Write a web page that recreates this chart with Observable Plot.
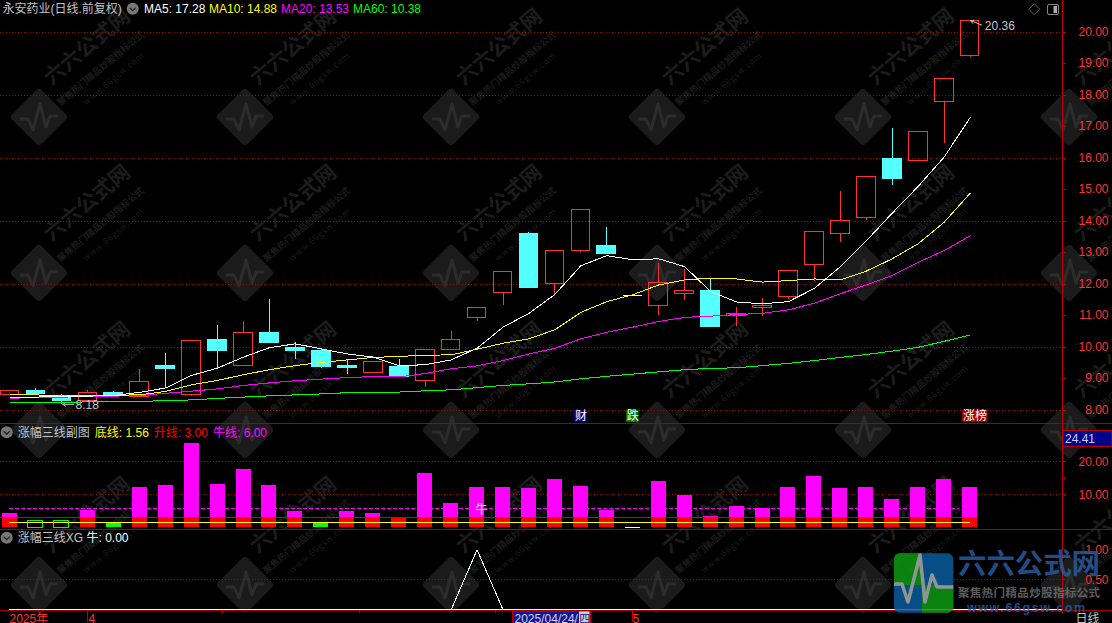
<!DOCTYPE html>
<html>
<head>
<meta charset="utf-8">
<script src="https://cdn.jsdelivr.net/npm/d3@7"></script>
<script src="https://cdn.jsdelivr.net/npm/@observablehq/plot@0.6"></script>
<style>
html,body{margin:0;padding:0;background:#000;overflow:hidden}
#stage{position:relative;width:1112px;height:623px;background:#000;overflow:hidden}
#stage>svg{position:absolute;left:0}
</style>
</head>
<body>
<div id="stage"></div>
<script>
// ---------- data ----------
const opens  = [8.47,8.59,8.44,8.30,8.55,8.41,9.41,8.47,10.21,9.39,10.43,9.98,9.86,9.41,9.17,9.35,8.91,9.91,10.91,11.71,13.60,11.99,13.04,13.22,11.63,11.30,11.68,11.79,10.98,11.23,11.58,12.61,13.59,14.09,15.98,15.90,17.77,19.24];
const closes = [8.61,8.52,8.30,8.55,8.46,8.90,9.29,10.20,9.87,10.45,10.14,9.87,9.38,9.32,9.51,9.04,9.91,10.23,11.24,12.39,11.87,13.05,14.35,12.95,11.63,12.04,11.78,10.62,11.05,11.29,12.42,13.66,14.00,15.40,15.32,16.83,18.51,20.36];
const highs  = [8.61,8.68,8.49,8.62,8.58,9.29,9.78,10.20,10.68,10.81,11.51,10.13,9.93,9.57,9.51,9.60,9.91,10.49,11.24,12.39,13.63,13.05,14.35,13.79,11.63,12.64,12.47,12.14,11.25,11.55,12.42,13.66,14.94,15.40,16.94,16.83,18.51,20.36];
const lows   = [8.47,8.48,8.18,8.25,8.45,8.40,8.70,8.44,9.31,9.39,10.12,9.61,9.32,9.13,9.17,9.04,8.72,9.91,10.82,11.33,11.87,11.61,13.01,12.95,11.63,11.00,11.48,10.62,10.65,10.98,11.50,12.09,13.33,14.01,15.13,15.90,16.47,19.20];
const ma5  = [8.40,8.41,8.43,8.44,8.46,8.56,8.70,9.10,9.33,9.68,9.98,10.10,9.94,9.78,9.68,9.40,9.44,9.59,9.96,10.63,11.07,11.67,12.58,12.90,12.77,12.80,12.55,11.76,11.43,11.37,11.44,11.86,12.55,13.37,14.25,15.10,16.03,17.28];
const ma10 = [8.48,8.48,8.44,8.46,8.47,8.48,8.59,8.80,8.94,9.12,9.28,9.41,9.51,9.59,9.67,9.70,9.74,9.75,9.93,10.12,10.26,10.55,11.10,11.44,11.66,11.97,12.13,12.19,12.16,12.06,12.11,12.16,12.13,12.41,12.80,13.28,13.96,14.88];
const ma20 = [8.37,8.40,8.41,8.42,8.44,8.46,8.53,8.60,8.67,8.78,8.86,8.93,8.98,9.03,9.06,9.05,9.16,9.31,9.40,9.57,9.78,9.96,10.26,10.47,10.63,10.81,10.94,10.98,11.03,11.07,11.18,11.39,11.69,11.97,12.27,12.69,13.06,13.53];
const ma60 = [8.23,8.23,8.23,8.26,8.26,8.27,8.30,8.32,8.37,8.41,8.45,8.48,8.51,8.55,8.56,8.57,8.61,8.64,8.71,8.78,8.83,8.89,8.99,9.07,9.14,9.21,9.28,9.32,9.34,9.41,9.48,9.57,9.67,9.76,9.87,9.99,10.18,10.38];
const amplitude = [4.4,2.2,2.2,5.3,1.45,12.3,12.9,25.6,13.2,17.7,12.9,5.0,1.45,5.0,4.4,3.1,16.5,7.4,12.3,12.3,11.9,14.7,12.6,5.3,0,14.1,9.8,3.5,6.5,6.0,12.3,15.6,11.9,12.3,8.6,12.3,14.7,12.3];
const amplitudeKind = ["up","hollow","hollow","up","down","up","up","up","up","up","up","up","down","up","up","up","up","up","up","up","up","up","up","up","flat","up","up","up","up","up","up","up","up","up","up","up","up","up"];
const xgSignal = [0,0,0,0,0,0,0,0,0,0,0,0,0,0,0,0,0,0,1,0,0,0,0,0,0,0,0,0,0,0,0,0,0,0,0,0,0,0];
const bottomLine = 1.56, riseLine = 3, bullLine = 6;
const events = [{at:22,label:"财",kind:"news"},{at:24,label:"跌",kind:"fall"},{at:37.19,label:"涨榜",kind:"rise"}];
const priceTicks = [8,9,10,11,12,13,14,15,16,17,18,19,20];
const priceGrid = [8,10,12,14,16,18,20];
const subGrid = [10,20], subMinorTicks = [15];
const xgTicks = [0.5,1];
const monthTicks = [3,24], minorTicks = [8.2,13.45,18.7];
const nameLabel = "永安药业(日线.前复权)";
const maLabels = ["MA5: 17.28","MA10: 14.88","MA20: 13.53","MA60: 10.38"];
const subLabelTexts = ["涨幅三线副图","底线: 1.56","升线: 3.00","牛线: 6.00"];
const xgLabelTexts = ["涨幅三线XG","牛: 0.00"];
const brand = {name:"六六公式网",slogan:"聚焦热门精品炒股指标公式",url:"www.66gsw.com"};

// ---------- shared styling ----------
const idx = d3.range(opens.length);
const RED="#ff3232", CYAN="#54ffff", GRIDRED="#a80000", AXIS="#c00000", GREY="#c4c4c4";
const FONT='"Liberation Sans","Noto Sans CJK SC",sans-serif';
const xScale = {domain:[-0.366,40.56],range:[0,1062],axis:null};
const hw = 0.36, bw = 0.289;
const lab = (t,x,y,fill,extra={}) => Plot.text([t],{text:d=>d,frameAnchor:"top-left",dx:x,dy:y,fill,fontSize:12,fontFamily:FONT,textAnchor:"start",lineAnchor:"middle",...extra});
const base = {width:1112,marginLeft:0,marginRight:50,marginTop:0,marginBottom:0,x:xScale,
  style:{background:"transparent",fontFamily:FONT,fontSize:"12px"}};
const grid = vals => Plot.ruleY(vals,{stroke:GRIDRED,strokeWidth:1,strokeDasharray:"1,2",shapeRendering:"crispEdges"});
const rightAxis = (vals,extra={}) => Plot.axisY(vals,{anchor:"right",tickSize:3,tickPadding:43,textAnchor:"end",stroke:AXIS,fill:RED,tickFormat:d3.format(".2f"),fontSize:12,fontFamily:FONT,shapeRendering:"crispEdges",...extra});
const maLine = (vals,color) => Plot.line(idx,{x:i=>i,y:i=>vals[i],stroke:color,strokeWidth:1,shapeRendering:"crispEdges"});
const stage = d3.select("#stage");

// ---------- background layer: watermark + panel frames ----------
const bg = stage.append("svg").attr("width",1112).attr("height",623).style("top",0);
const wmCols = d3.range(6).map(i=>39+206*i), wmRows = [117,273,430,585];
for (const cx of wmCols) for (const cy of wmRows) {
  const g = bg.append("g").attr("transform",`translate(${cx},${cy})`);
  g.append("rect").attr("x",-21).attr("y",-21).attr("width",42).attr("height",42).attr("rx",4)
    .attr("transform","rotate(45)").attr("fill","#1b1b1b");
  g.append("polyline").attr("points","-19,2 -11,2 -6,13 1,-13 7,10 11,-1 19,-1")
    .attr("fill","none").attr("stroke","#2c2c2c").attr("stroke-width",3).attr("stroke-linejoin","round");
  const t = (txt,dx,dy,size,weight,ls) => g.append("text").text(txt).attr("font-family",'"Noto Sans CJK SC",sans-serif')
    .attr("font-size",size).attr("font-weight",weight).attr("letter-spacing",ls).attr("fill","#1c1c1c")
    .attr("text-anchor","middle").attr("dominant-baseline","middle")
    .attr("transform",`translate(${dx},${dy}) rotate(-40)`);
  t(brand.name,49,-69,21,700,0); t(brand.slogan,62,-48,9.2,700,0); t(brand.url,75,-38,8.5,400,0.8);
}
const hline = (y,x2=1112,c=GRIDRED)=>bg.append("line").attr("x1",0).attr("x2",x2).attr("y1",y).attr("y2",y).attr("stroke",c).attr("shape-rendering","crispEdges");
hline(423.5); hline(529.5); hline(610.5);
bg.append("line").attr("x1",1062.5).attr("x2",1062.5).attr("y1",0).attr("y2",614).attr("stroke",AXIS).attr("shape-rendering","crispEdges");
bg.append("rect").attr("x",1063).attr("y",430.5).attr("width",49).attr("height",16).attr("fill","#00008c").attr("stroke",AXIS);
bg.append("rect").attr("x",512.5).attr("y",611).attr("width",78).attr("height",14).attr("fill","#14148c").attr("stroke",AXIS).attr("shape-rendering","crispEdges");
bg.append("rect").attr("x",579).attr("y",611.5).attr("width",10.5).attr("height",12).attr("fill","#d0d0d0");

// ---------- main price panel ----------
const isUp = i => closes[i] > opens[i], isDown = i => closes[i] < opens[i], isFlat = i => closes[i] === opens[i];
const eventColor = {news:"#000088",fall:"#007a00",rise:"#a00000"};
const mainChart = Plot.plot({...base,height:424,
  y:{domain:[8,20],range:[409.5,31.5]},
  marks:[
    grid(priceGrid),
    rightAxis(priceTicks),
    Plot.ruleX(idx.filter(isUp),{x:i=>i,y1:i=>highs[i],y2:i=>closes[i],stroke:RED,shapeRendering:"crispEdges"}),
    Plot.ruleX(idx.filter(isUp),{x:i=>i,y1:i=>lows[i],y2:i=>opens[i],stroke:RED,shapeRendering:"crispEdges"}),
    Plot.ruleX(idx.filter(isDown),{x:i=>i,y1:i=>highs[i],y2:i=>lows[i],stroke:CYAN,shapeRendering:"crispEdges"}),
    Plot.rect(idx.filter(isUp),{x1:i=>i-hw,x2:i=>i+hw,y1:i=>opens[i],y2:i=>closes[i],fill:"none",stroke:RED,strokeWidth:1,shapeRendering:"crispEdges"}),
    Plot.rect(idx.filter(isDown),{x1:i=>i-hw,x2:i=>i+hw,y1:i=>opens[i],y2:i=>closes[i],fill:CYAN,stroke:CYAN,strokeWidth:1,shapeRendering:"crispEdges"}),
    Plot.ruleY(idx.filter(isFlat),{y:i=>closes[i],x1:i=>i-hw,x2:i=>i+hw,stroke:"#ffffff",shapeRendering:"crispEdges"}),
    maLine(ma60,"#00ff00"),
    maLine(ma20,"#ff00ff"),
    maLine(ma10,"#ffff00"),
    maLine(ma5,"#ffffff"),
    Plot.arrow([2],{x1:2.45,x2:2.03,y1:8.18,y2:8.18,stroke:GREY,strokeWidth:1,headLength:5,bend:false}),
    Plot.text([d3.min(lows)],{x:2,y:d=>d,text:d=>d.toFixed(2),dx:13.6,dy:0.5,fill:GREY,fontSize:12,textAnchor:"start",fontFamily:FONT}),
    Plot.arrow([37],{x1:37.45,x2:37.02,y1:20.22,y2:20.36,stroke:GREY,strokeWidth:1,headLength:5,bend:false}),
    Plot.text([d3.max(highs)],{x:37,y:d=>d,text:d=>d.toFixed(2),dx:14.7,dy:5.5,fill:GREY,fontSize:12,textAnchor:"start",fontFamily:FONT}),
    Plot.rect(events,{x1:d=>d.at-0.24*d.label.length,x2:d=>d.at+0.24*d.label.length,y1:8,y2:7.6,fill:d=>eventColor[d.kind]}),
    Plot.text(events,{x:d=>d.at,y:7.8,text:"label",fill:"#ffffff",fontSize:12,fontFamily:FONT}),
    lab(nameLabel,2,9,GREY),
    lab(maLabels[0],143.5,9,"#ffffff"),
    lab(maLabels[1],208.5,9,"#ffff00"),
    lab(maLabels[2],280.5,9,"#ff00ff"),
    lab(maLabels[3],352.5,9,"#00ff00")
  ]});
d3.select(mainChart).style("top","0px");
stage.node().append(mainChart);

// ---------- sub panel ----------
const subChart = Plot.plot({...base,height:106,
  y:{domain:[0,20],range:[103.3,37.3]},
  marks:[
    grid(subGrid),
    rightAxis(subGrid),
    rightAxis(subMinorTicks,{tickFormat:()=>""}),
    Plot.ruleY([bullLine],{x1:0,x2:36.6,stroke:"#ff00ff",strokeDasharray:"4,2",shapeRendering:"crispEdges"}),
    Plot.rect(idx.filter(i=>amplitudeKind[i]==="up"),{x1:i=>i-bw,x2:i=>i+bw,y1:0,y2:i=>amplitude[i],fill:"#ff00ff",shapeRendering:"crispEdges"}),
    Plot.rect(idx.filter(i=>amplitudeKind[i]==="up"),{x1:i=>i-bw,x2:i=>i+bw,y1:0,y2:i=>Math.min(amplitude[i],riseLine),fill:"#ff0000",shapeRendering:"crispEdges"}),
    Plot.rect(idx.filter(i=>amplitudeKind[i]==="down"),{x1:i=>i-bw,x2:i=>i+bw,y1:0,y2:i=>amplitude[i],fill:"#00ff00",shapeRendering:"crispEdges"}),
    Plot.rect(idx.filter(i=>amplitudeKind[i]==="hollow"),{x1:i=>i-bw,x2:i=>i+bw,y1:0,y2:i=>amplitude[i],fill:"none",stroke:"#00ff00",shapeRendering:"crispEdges"}),
    Plot.ruleY(idx.filter(i=>amplitudeKind[i]==="flat"),{y:0,x1:i=>i-bw,x2:i=>i+bw,stroke:"#ffffff",shapeRendering:"crispEdges"}),
    Plot.ruleY([riseLine],{x1:-0.366,x2:37,stroke:"#e00000",shapeRendering:"crispEdges"}),
    Plot.ruleY([bottomLine],{x1:0,x2:37,stroke:"#ffff00",shapeRendering:"crispEdges"}),
    Plot.text(["牛"],{x:18,y:5.3,text:d=>d,dx:4.5,fill:"#ffffff",fontSize:12,fontFamily:FONT}),
    lab(subLabelTexts[0],17.3,8.5,GREY),
    lab(subLabelTexts[1],94.3,8.5,"#ffff00"),
    lab(subLabelTexts[2],153.3,8.5,"#ff0000"),
    lab(subLabelTexts[3],212.5,8.5,"#ff00ff"),
    lab("24.41",1064.5,14.5,"#d0d0e8")
  ]});
d3.select(subChart).style("top","424px");
stage.node().append(subChart);

// ---------- signal panel ----------
const xgChart = Plot.plot({...base,height:93,
  y:{domain:[0,1],range:[79.3,19.3]},
  marks:[
    grid([0.5]),
    rightAxis(xgTicks),
    maLine(xgSignal,"#ffffff"),
    Plot.ruleY([0],{x1:0,x2:40.56,stroke:"#ffffff",strokeWidth:1,shapeRendering:"crispEdges"}),
    Plot.ruleX(monthTicks,{y1:-0.015,y2:-0.21,stroke:AXIS,shapeRendering:"crispEdges"}),
    Plot.ruleX(minorTicks,{y1:-0.015,y2:-0.06,stroke:AXIS,shapeRendering:"crispEdges"}),
    lab(xgLabelTexts[0],17.3,8,GREY),
    lab(xgLabelTexts[1],86,8,"#ffffff"),
    lab("2025年",9,88.5,RED),
    lab("4",88,88.5,RED),
    lab("5",632,88.5,RED),
    lab("2025/04/24/",514,88.5,"#d0d0f0"),
    lab("四",578.8,88.5,"#14148c",{fontSize:11}),
    lab("日线",1075,88.5,GREY)
  ]});
d3.select(xgChart).style("top","530px");
stage.node().append(xgChart);

// ---------- foreground layer: small icons and the site logo ----------
const fg = stage.append("svg").attr("width",1112).attr("height",623).style("top",0);
const chevronIcon = (cx,cy)=>{
  fg.append("circle").attr("cx",cx).attr("cy",cy).attr("r",6).attr("fill","#777");
  fg.append("polyline").attr("points",`${cx-3},${cy-1} ${cx},${cy+2} ${cx+3},${cy-1}`).attr("fill","none").attr("stroke","#222").attr("stroke-width",1.3);
};
chevronIcon(132.7,8.7); chevronIcon(6.7,432.3); chevronIcon(6.7,537.7);
fg.append("polygon").attr("points","1034.3,3.8 1039.8,9.3 1034.3,14.8 1028.8,9.3").attr("fill","none").attr("stroke","#666");
fg.append("rect").attr("x",1047.5).attr("y",4.5).attr("width",11).attr("height",10).attr("rx",1.5).attr("fill","none").attr("stroke","#888");
fg.append("rect").attr("x",1053.5).attr("y",6).attr("width",3.5).attr("height",7).attr("fill","#aaa");
const logo = fg.append("g").attr("opacity",0.85);
fg.append("clipPath").attr("id","logoClip").append("rect").attr("x",894).attr("y",553.3).attr("width",59.3).attr("height",59.4).attr("rx",6);
const tile = logo.append("g").attr("clip-path","url(#logoClip)");
tile.append("rect").attr("x",894).attr("y",553).attr("width",60).attr("height",60).attr("fill","#0a5c9e");
tile.append("rect").attr("x",894).attr("y",553).attr("width",28).attr("height",32).attr("fill","#0b9a10");
tile.append("rect").attr("x",922).attr("y",585).attr("width",32).attr("height",28).attr("fill","#0b9a10");
tile.append("polyline").attr("points","894,584 902,584 908,602 920,555 925,602 932,575 937,587 954,587")
  .attr("fill","none").attr("stroke","#a8b0b0").attr("stroke-width",3.5).attr("stroke-linejoin","round");
logo.append("text").text(brand.name).attr("x",958).attr("y",566.5).attr("textLength",142).attr("lengthAdjust","spacingAndGlyphs")
  .attr("dominant-baseline","middle").attr("font-family",'"Noto Sans CJK SC",sans-serif').attr("font-size",28).attr("font-weight",700).attr("fill","#2a5a9c");
logo.append("text").text(brand.slogan).attr("x",958).attr("y",593.5).attr("textLength",142)
  .attr("dominant-baseline","middle").attr("font-family",'"Noto Sans CJK SC",sans-serif').attr("font-size",11.5).attr("font-weight",700).attr("fill","#6e6e6e");
logo.append("text").text(brand.url).attr("x",967).attr("y",609).attr("textLength",118)
  .attr("dominant-baseline","middle").attr("font-family",'"Liberation Sans",sans-serif').attr("font-size",12.5).attr("font-weight",700).attr("fill","#2a5a9c");
</script>
</body>
</html>
